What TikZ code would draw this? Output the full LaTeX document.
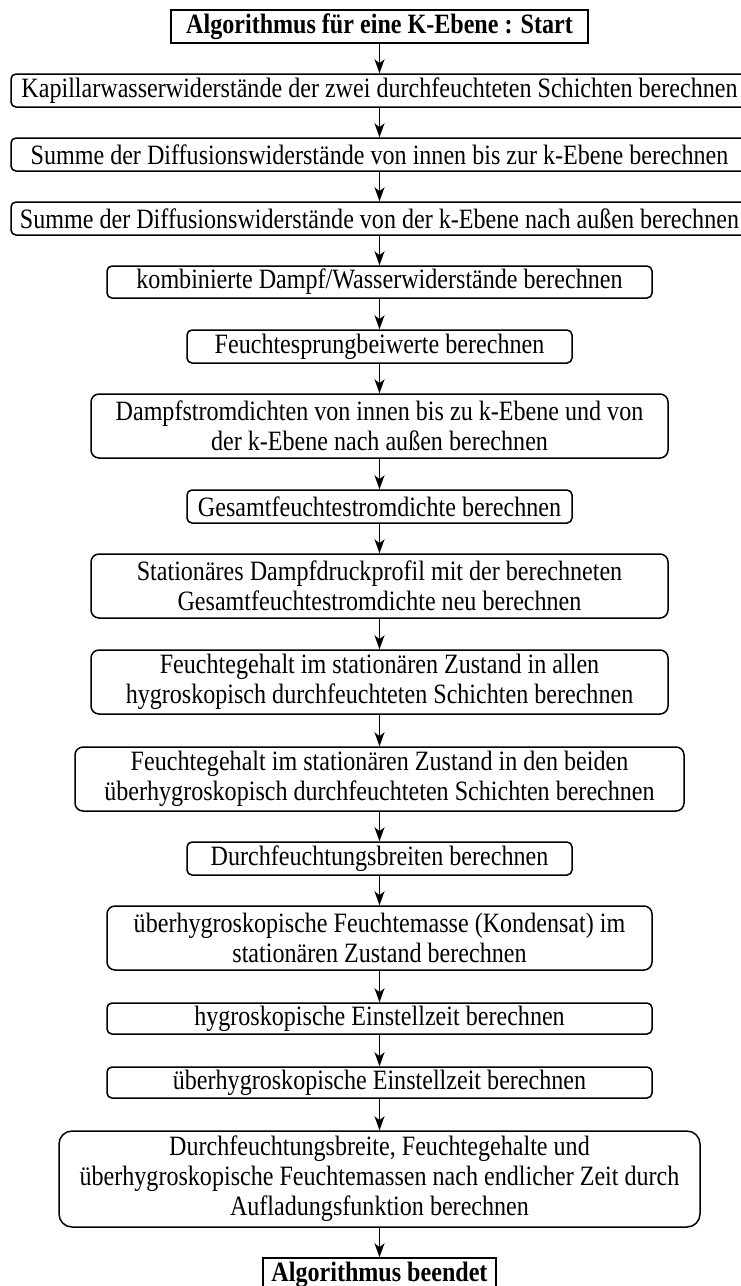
\documentclass[tikz,border=0pt]{standalone}
\usepackage{fontspec}
\setmainfont{Liberation Serif}[FakeStretch=0.86]
\usetikzlibrary{arrows.meta}
\tikzset{
  base/.style={draw=black, line width=1.5pt, inner sep=0pt, align=center,
    font=\fontsize{28}{30}\selectfont, text=black},
  rbox/.style={base, rounded corners=5pt},
  rbox2/.style={base, rounded corners=8pt},
  rbox3/.style={base, rounded corners=13pt},
  tbox/.style={base, font=\fontsize{28}{30}\selectfont\bfseries},
  arr/.style={draw=black, line width=1.5pt, -{Stealth[length=14pt,width=10pt,inset=4pt]}}
}
\begin{document}
\begin{tikzpicture}[x=1pt,y=-1pt]
\useasboundingbox (0,0) rectangle (741,1286);
\fill[white] (0,0) rectangle (741,1286);
\def\cx{379.5}
\node[tbox, minimum width=417pt, minimum height=33pt] (n1) at (\cx,26.5) {Algorithmus für eine K-Ebene : Start};
\node[rbox, minimum width=737pt, minimum height=33pt] (n2) at (\cx,90.5) {Kapillarwasserwiderstände der zwei durchfeuchteten Schichten berechnen};
\node[rbox, minimum width=737pt, minimum height=33pt] (n3) at (\cx,154.5) {Summe der Diffusionswiderstände von innen bis zur k-Ebene berechnen};
\node[rbox, minimum width=737pt, minimum height=33pt] (n4) at (\cx,218.5) {Summe der Diffusionswiderstände von der k-Ebene nach außen berechnen};
\node[rbox, minimum width=545pt, minimum height=32pt] (n5) at (\cx,282) {kombinierte Dampf/Wasserwiderstände berechnen};
\node[rbox, minimum width=385pt, minimum height=33pt] (n6) at (\cx,346.5) {Feuchtesprungbeiwerte berechnen};
\node[rbox2, minimum width=577pt, minimum height=64pt] (n7) at (\cx,426) {Dampfstromdichten von innen bis zu k-Ebene und von\\der k-Ebene nach außen berechnen};
\node[rbox, minimum width=385pt, minimum height=33pt] (n8) at (\cx,506.5) {Gesamtfeuchtestromdichte berechnen};
\node[rbox2, minimum width=577pt, minimum height=64pt] (n9) at (\cx,586) {Stationäres Dampfdruckprofil mit der berechneten\\Gesamtfeuchtestromdichte neu berechnen};
\node[rbox2, minimum width=577pt, minimum height=64pt] (n10) at (\cx,682) {Feuchtegehalt im stationären Zustand in allen\\hygroskopisch durchfeuchteten Schichten berechnen};
\node[rbox2, minimum width=609pt, minimum height=64pt] (n11) at (\cx,779) {Feuchtegehalt im stationären Zustand in den beiden\\überhygroskopisch durchfeuchteten Schichten berechnen};
\node[rbox, minimum width=385pt, minimum height=33pt] (n12) at (\cx,858.5) {Durchfeuchtungsbreiten berechnen};
\node[rbox2, minimum width=545pt, minimum height=64pt] (n13) at (\cx,938) {überhygroskopische Feuchtemasse (Kondensat) im\\stationären Zustand berechnen};
\node[rbox, minimum width=545pt, minimum height=31pt] (n14) at (\cx,1018.5) {hygroskopische Einstellzeit berechnen};
\node[rbox, minimum width=545pt, minimum height=31pt] (n15) at (\cx,1082.5) {überhygroskopische Einstellzeit berechnen};
\node[rbox3, minimum width=641pt, minimum height=96pt] (n16) at (\cx,1179) {Durchfeuchtungsbreite, Feuchtegehalte und\\überhygroskopische Feuchtemassen nach endlicher Zeit durch\\Aufladungsfunktion berechnen};
\node[tbox, minimum width=233pt, minimum height=33pt] (n17) at (\cx,1274.5) {Algorithmus beendet};
\foreach \a/\b in {n1/n2,n2/n3,n3/n4,n4/n5,n5/n6,n6/n7,n7/n8,n8/n9,n9/n10,n10/n11,n11/n12,n12/n13,n13/n14,n14/n15,n15/n16,n16/n17}
  \draw[arr] (\a) -- (\b);
\end{tikzpicture}
\end{document}
